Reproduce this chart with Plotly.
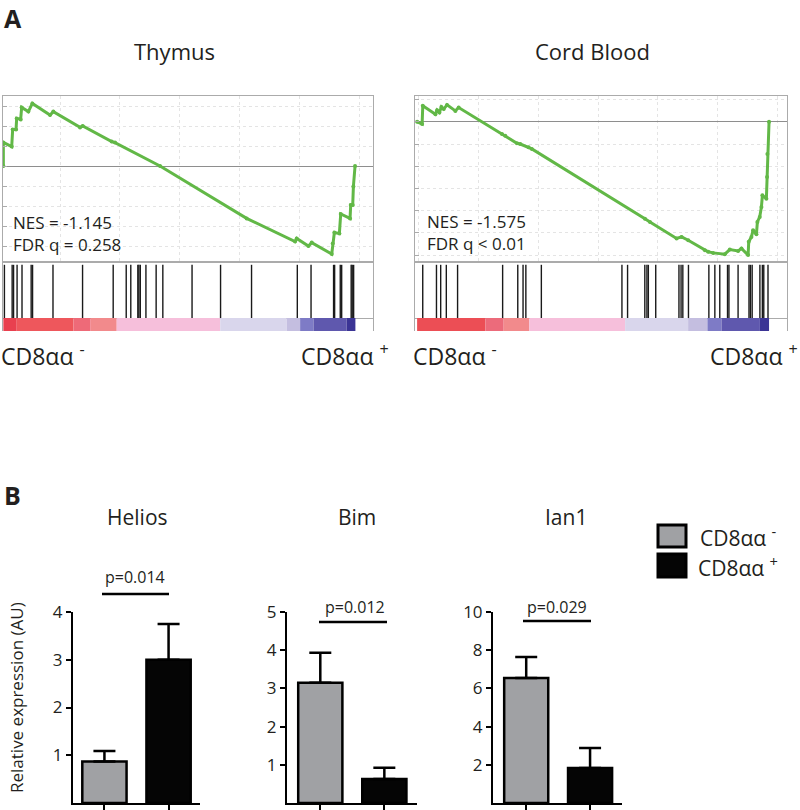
import plotly.graph_objects as go

W, H = 800, 810
FONT = "Open Sans"
TXT = "#231F20"
GREEN = "#62B847"
FRAME = "#ABABAB"
GRAYBAR = "#A0A1A4"

# ---------------- Panel A data (GSEA) ----------------
thymus_rank = [0, 0, 23.7, 26.5, 36, 37.9, 49.2, 52, 71, 82.4, 132.6, 142, 217.8, 225.4, 307.8, 317.2,
               445, 691, 828.6, 833.3, 866.5, 876, 932.8, 935.6, 940.3, 954.5, 958.3, 984.8, 986.7,
               992.4, 994.3, 999]
thymus_es = [0, 0.118, 0.097, 0.183, 0.183, 0.238, 0.233, 0.293, 0.272, 0.313, 0.255, 0.272, 0.193,
             0.2, 0.122, 0.117, 0, -0.262, -0.378, -0.362, -0.4, -0.383, -0.44, -0.387, -0.333,
             -0.337, -0.24, -0.262, -0.195, -0.195, -0.103, 0]
thymus_hits = [3, 25, 29, 39, 53, 79, 83, 141, 225, 312, 349, 362, 382, 385, 389, 405, 434, 453, 536,
               617, 705, 835, 874, 938, 941, 957, 961, 988, 991, 995]
thymus_bar_edges = [0, 38, 199, 248, 322, 616, 805, 843, 881, 975, 1000]
thymus_bar_colors = ["#E9404F", "#EE575C", "#EE6A78", "#F28A8C", "#F6BFDB", "#D9D6EC",
                     "#C4BEE0", "#7E7BC6", "#5F58AE", "#3B3495"]

cord_rank = [0, 14.2, 16.1, 52, 56.7, 63.3, 69, 75.6, 85, 108.7, 118.1, 241, 250.5, 283.6, 293,
             316.6, 326, 647.4, 661.6, 737.2, 751.4, 770.3, 817.6, 827, 841.2, 874.3, 888.5, 912.1,
             921.6, 940.5, 942.3, 949.9, 954.6, 964.1, 966.9, 973.5, 978.3, 981.1, 992.4, 994.3,
             995.3, 1000]
cord_es = [0, -0.010, 0.072, 0.034, 0.052, 0.042, 0.067, 0.057, 0.076, 0.049, 0.064, -0.055,
           -0.063, -0.097, -0.1, -0.115, -0.122, -0.436, -0.451, -0.525, -0.518, -0.533, -0.578,
           -0.585, -0.590, -0.596, -0.575, -0.581, -0.570, -0.600, -0.540, -0.518, -0.488, -0.506,
           -0.451, -0.428, -0.384, -0.331, -0.346, -0.249, -0.145, 0]
cord_hits = [16, 55, 67, 83, 115, 243, 286, 301, 309, 353, 582, 598, 647, 653, 657, 678, 744, 750,
             755, 771, 829, 846, 860, 882, 886, 912, 943, 947, 952, 974, 981, 985, 997]
cord_bar_edges = [0, 194, 246, 319, 591, 770, 825, 865, 974, 1000]
cord_bar_colors = ["#EC4E55", "#EC6B7B", "#F28A8C", "#F6BFDB", "#D9D6EC", "#C4BEE0",
                   "#7E7BC6", "#5F58AE", "#3B3495"]

thymus_es_ticks = [-0.4, -0.3, -0.2, -0.1, 0, 0.1, 0.2, 0.3]
cord_es_ticks = [-0.6, -0.5, -0.4, -0.3, -0.2, -0.1, 0, 0.1]

panel_titles = ["Thymus", "Cord Blood"]
nes_texts = ["NES = -1.145", "NES = -1.575"]
fdr_texts = ["FDR q = 0.258", "FDR q < 0.01"]

# ---------------- Panel B data (bar charts) ----------------
groups = ["CD8αα -", "CD8αα +"]
genes = ["Helios", "Bim", "Ian1"]
helios_mean = [0.87, 3.0]
helios_err = [0.22, 0.75]
bim_mean = [3.15, 0.63]
bim_err = [0.78, 0.29]
ian1_mean = [6.55, 1.83]
ian1_err = [1.09, 1.05]
helios_ticks = [1, 2, 3, 4]
bim_ticks = [1, 2, 3, 4, 5]
ian1_ticks = [2, 4, 6, 8, 10]
p_values = ["p=0.014", "p=0.012", "p=0.029"]


def dom_x(a, b):
    return [a / W, b / W]


def dom_y(top, bottom):
    return [1 - bottom / H, 1 - top / H]


def names(i):
    s = "" if i == 1 else str(i)
    return "xaxis" + s, "yaxis" + s, "x" + s, "y" + s


fig = go.Figure()
layout = {}


def gsea_panel(base, xl, xr, xrange, yrange, rank, es, hits, edges, colors, es_ticks, tick0):
    # curve axis
    xa, ya, xr_, yr_ = names(base)
    layout[xa] = dict(domain=dom_x(xl, xr), range=xrange, anchor=yr_, showline=True, mirror=True,
                      linecolor=FRAME, linewidth=1, showticklabels=False, ticks="",
                      showgrid=True, gridcolor="#E4E4E4", griddash="dot", tick0=tick0, dtick=170,
                      zeroline=False, fixedrange=True)
    layout[ya] = dict(domain=dom_y(96, 262), range=yrange, anchor=xr_, showline=True, mirror=True,
                      linecolor=FRAME, linewidth=1, ticks="inside", ticklen=4, tickcolor=FRAME,
                      tickvals=es_ticks, showticklabels=False, showgrid=True, gridcolor="#E4E4E4",
                      griddash="dot", zeroline=True, zerolinecolor="#8E8E8E", zerolinewidth=1,
                      fixedrange=True)
    fig.add_trace(go.Scatter(x=rank, y=es, mode="lines+markers",
                             line=dict(color=GREEN, width=3), marker=dict(size=4, color=GREEN),
                             xaxis=xr_, yaxis=yr_, showlegend=False, hoverinfo="skip"))
    # hits axis
    xa, ya, xr_, yr_ = names(base + 1)
    layout[xa] = dict(domain=dom_x(xl, xr), range=xrange, anchor=yr_, showline=True, mirror=True,
                      linecolor=FRAME, linewidth=1, showticklabels=False, ticks="",
                      showgrid=False, zeroline=False, fixedrange=True)
    layout[ya] = dict(domain=dom_y(262, 318), range=[0, 1], anchor=xr_, showline=True, mirror=True,
                      linecolor=FRAME, linewidth=1, showticklabels=False, ticks="",
                      showgrid=False, zeroline=False, fixedrange=True)
    hx, hy = [], []
    for h in hits:
        hx += [h, h, None]
        hy += [0, 0.95, None]
    fig.add_trace(go.Scatter(x=hx, y=hy, mode="lines", line=dict(color="#1A1A1A", width=1.4),
                             xaxis=xr_, yaxis=yr_, showlegend=False, hoverinfo="skip"))
    # colour bar axis
    xa, ya, xr_, yr_ = names(base + 2)
    layout[xa] = dict(domain=dom_x(xl, xr), range=xrange, anchor=yr_, showline=False,
                      showticklabels=False, ticks="", showgrid=False, zeroline=False, fixedrange=True)
    layout[ya] = dict(domain=dom_y(318, 331), range=[0, 1], anchor=xr_, showline=True, mirror=True,
                      linecolor=FRAME, linewidth=1, showticklabels=False, ticks="",
                      showgrid=False, zeroline=False, fixedrange=True)
    centers = [(edges[i] + edges[i + 1]) / 2 for i in range(len(colors))]
    widths = [edges[i + 1] - edges[i] for i in range(len(colors))]
    fig.add_trace(go.Bar(x=centers, y=[1] * len(colors), width=widths,
                         marker=dict(color=colors, line=dict(width=0)),
                         xaxis=xr_, yaxis=yr_, showlegend=False, hoverinfo="skip"))


gsea_panel(1, 3, 373, [-1, 1050], [-0.48, 0.35], thymus_rank, thymus_es, thymus_hits,
           thymus_bar_edges, thymus_bar_colors, thymus_es_ticks, 161)
gsea_panel(4, 415, 787, [-6, 1051], [-0.631, 0.116], cord_rank, cord_es, cord_hits,
           cord_bar_edges, cord_bar_colors, cord_es_ticks, 4)


def bar_panel(i, xl, xr, xrange, ymax, ticks, mean, err):
    xa, ya, xr_, yr_ = names(i)
    layout[xa] = dict(domain=dom_x(xl, xr), range=xrange, anchor=yr_, showline=True,
                      linecolor="black", linewidth=2, tickvals=[0, 1], showticklabels=False,
                      ticks="outside", ticklen=6, tickwidth=2, tickcolor="black",
                      showgrid=False, zeroline=False, fixedrange=True)
    layout[ya] = dict(domain=dom_y(612, 803), range=[0, ymax], anchor=xr_, showline=True,
                      linecolor="black", linewidth=2, tickvals=ticks, ticks="outside", ticklen=5,
                      tickwidth=2, tickcolor="black", tickfont=dict(size=17, color=TXT, family=FONT),
                      showgrid=False, zeroline=False, fixedrange=True)
    fig.add_trace(go.Bar(x=[0, 1], y=mean, width=0.69,
                         marker=dict(color=[GRAYBAR, "#050505"], line=dict(color="black", width=2.5)),
                         error_y=dict(type="data", symmetric=False, array=err, arrayminus=[0, 0],
                                      color="black", thickness=2.5, width=11),
                         xaxis=xr_, yaxis=yr_, showlegend=False, hoverinfo="skip"))


bar_panel(7, 73, 200, [-0.49, 1.49], 4, helios_ticks, helios_mean, helios_err)
bar_panel(8, 287, 417, [-0.52, 1.51], 5, bim_ticks, bim_mean, bim_err)
bar_panel(9, 493, 622, [-0.52, 1.50], 10, ian1_ticks, ian1_mean, ian1_err)

ann = []


def text(t, x, y, size, xanchor="center", yanchor="middle", angle=0, align="center"):
    ann.append(dict(text=t, x=x / W, y=1 - y / H, xref="paper", yref="paper", showarrow=False,
                    xanchor=xanchor, yanchor=yanchor, textangle=angle, align=align, borderpad=0,
                    font=dict(family=FONT, size=size, color=TXT)))


text("<b>A</b>", 3, 0, 25, xanchor="left", yanchor="top")
text("<b>B</b>", 3, 495, 25, xanchor="left")
text(panel_titles[0], 174, 51, 22)
text(panel_titles[1], 592, 51, 22)
text(nes_texts[0] + "<br>" + fdr_texts[0], 12, 233, 17, xanchor="left", align="left")
text(nes_texts[1] + "<br>" + fdr_texts[1], 426, 232, 17, xanchor="left", align="left")
grp_html = ["CD8αα <sup>-</sup>", "CD8αα <sup>+</sup>"]
text(grp_html[0], 0, 355, 23, xanchor="left")
text(grp_html[1], 390, 355, 23, xanchor="right")
text(grp_html[0], 412, 355, 23, xanchor="left")
text(grp_html[1], 799, 355, 23, xanchor="right")

text(genes[0], 137, 517, 21)
text(genes[1], 357, 517, 21)
text(genes[2], 566, 517, 21)
text(p_values[0], 135, 577, 16)
text(p_values[1], 355, 607, 16)
text(p_values[2], 557, 607, 16)
text("Relative expression (AU)", 16, 698, 17, angle=-90)

# legend
text(grp_html[0], 699, 536, 21, xanchor="left")
text(grp_html[1], 697, 566, 21, xanchor="left")

shapes = []


def hline(x0, x1, y):
    shapes.append(dict(type="line", xref="paper", yref="paper", x0=x0 / W, x1=x1 / W,
                       y0=1 - y / H, y1=1 - y / H, line=dict(color="black", width=2.5)))


hline(102, 169, 594)
hline(319, 387, 622)
hline(523, 591, 621)


def rect(x0, y0, x1, y1, fill):
    shapes.append(dict(type="rect", xref="paper", yref="paper", x0=x0 / W, x1=x1 / W,
                       y0=1 - y1 / H, y1=1 - y0 / H, fillcolor=fill,
                       line=dict(color="black", width=3)))


rect(658, 525, 686, 547, GRAYBAR)
rect(658, 554, 686, 577, "#050505")

fig.update_layout(
    width=W, height=H, margin=dict(l=0, r=0, t=0, b=0, autoexpand=False),
    paper_bgcolor="white", plot_bgcolor="white", barmode="overlay",
    annotations=ann, shapes=shapes, showlegend=False,
    font=dict(family=FONT, color=TXT), **layout)

fig.write_html("out.html", config={"displayModeBar": False},
               post_script="document.body.style.margin='0';document.body.style.overflow='hidden';")
